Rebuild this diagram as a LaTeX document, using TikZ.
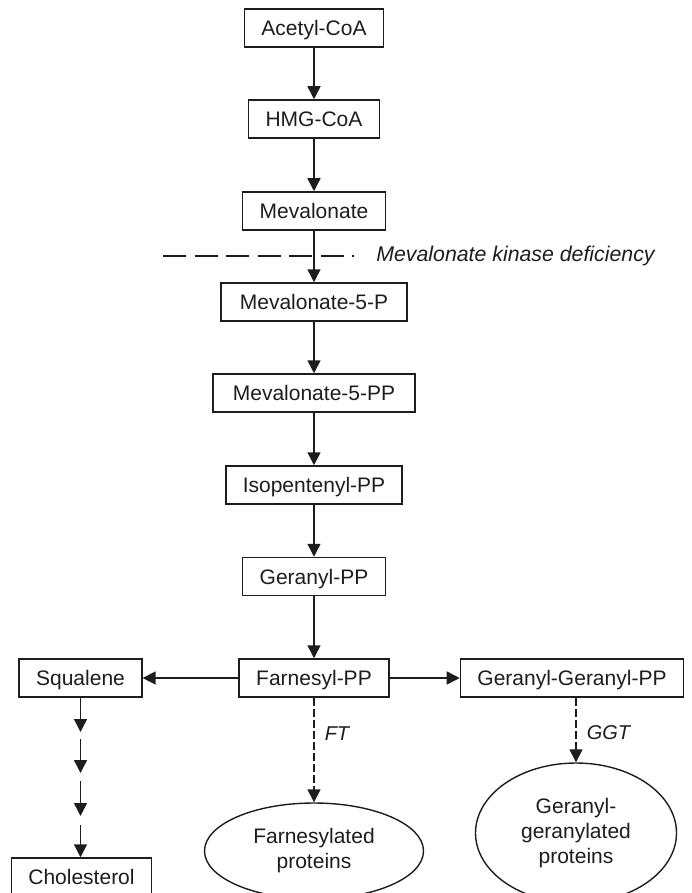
\documentclass[tikz,border=0pt]{standalone}
\usepackage{fontspec}
\setmainfont{Liberation Sans}
\usetikzlibrary{arrows.meta,shapes.geometric}
\definecolor{ink}{RGB}{30,28,28}
\tikzset{
	box/.style={draw=ink, text=ink, line width=0.75pt, inner xsep=8.5pt, inner ysep=0pt,
		minimum height=19pt, text height=7.5pt, text depth=0pt},
	prot/.style={ellipse, draw=ink, text=ink, line width=0.7pt, inner sep=0pt, align=center},
	arr/.style={draw=ink, line width=0.75pt, -{Triangle[length=6.5pt,width=6.5pt]}},
	darr/.style={arr, dash pattern=on 4pt off 1.5pt},
	lbl/.style={text=ink, font=\itshape, inner sep=0pt, text height=7.5pt, text depth=0pt},
}

\begin{document}
\begin{tikzpicture}[x=0.5pt,y=-0.5pt,font=\fontsize{10.5}{12.5}\selectfont]
\useasboundingbox (0,0) rectangle (691,893);
\clip (0,0) rectangle (691,893);
% main pathway
\node[box] (acetyl) at (314,28) {Acetyl-CoA};
\node[box] (hmg) at (314,119) {HMG-CoA};
\node[box] (meva) at (314,211) {Mevalonate};
\node[box, minimum width=93pt] (mev5p) at (314,302) {Mevalonate-5-P};
\node[box, minimum width=101pt] (mev5pp) at (314,393) {Mevalonate-5-PP};
\node[box] (ipp) at (314,485) {Isopentenyl-PP};
\node[box] (gpp) at (314,576.5) {Geranyl-PP};
\node[box] (fpp) at (314,678) {Farnesyl-PP};
\node[box] (squal) at (80.5,678) {Squalene};
\node[box] (ggpp) at (572,678) {Geranyl-Geranyl-PP};
\node[box] (chol) at (81.5,877) {Cholesterol};
\node[prot, minimum width=109.5pt, minimum height=48pt] (fprot) at (314,851) {Farnesylated\\proteins};
\node[prot, minimum width=100.5pt, minimum height=70pt] (gprot) at (576,833) {Geranyl-\\geranylated\\proteins};
\draw[arr] (acetyl) -- (hmg);
\draw[arr] (hmg) -- (meva);
\draw[arr] (meva) -- (mev5p);
\draw[arr] (mev5p) -- (mev5pp);
\draw[arr] (mev5pp) -- (ipp);
\draw[arr] (ipp) -- (gpp);
\draw[arr] (gpp) -- (fpp);
\draw[arr] (fpp) -- (squal);
\draw[arr] (fpp) -- (ggpp);
% enzyme block
\draw[ink, line width=1pt, dash pattern=on 11.5pt off 4.25pt] (163,256) -- (354,256);
\node[lbl, anchor=west, font=\fontsize{10.65}{12.5}\selectfont\itshape] (mkd) at (376,254) {Mevalonate kinase deficiency};
% prenylation
\draw[darr] (fpp) -- node[lbl, pos=0.34, right=5pt] (ft) {FT} (fprot);
\draw[darr] (gprot.north |- ggpp.south) -- node[lbl, pos=0.53, right=5pt] (ggt) {GGT} (gprot);
% squalene to cholesterol
\coordinate (t1) at (80.5,732);
\coordinate (b1) at (80.5,739);
\coordinate (t2) at (80.5,773);
\coordinate (b2) at (80.5,781);
\coordinate (t3) at (80.5,816);
\coordinate (b3) at (80.5,825);
\draw[arr] (squal) -- (t1);
\draw[arr] (b1) -- (t2);
\draw[arr] (b2) -- (t3);
\draw[arr] (b3) -- (b3 |- chol.north);
\end{tikzpicture}
\end{document}
